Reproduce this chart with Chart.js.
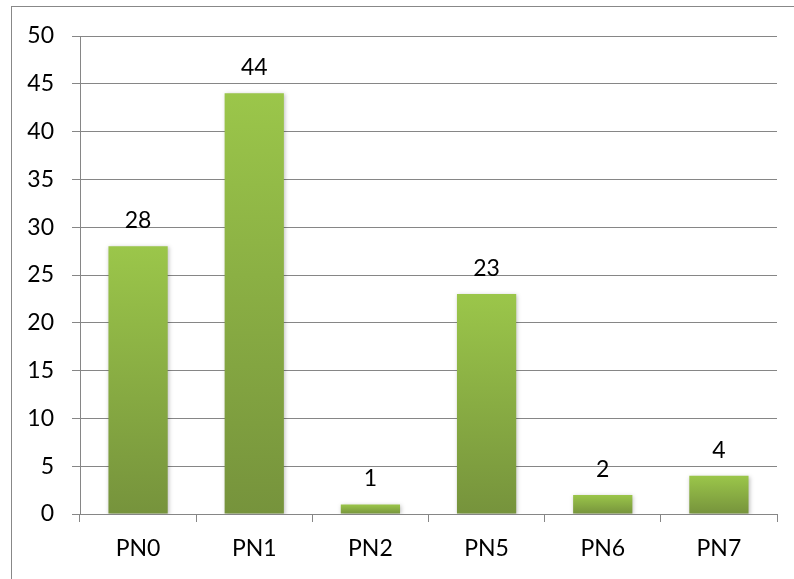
<!DOCTYPE html>
<html>
<head>
<meta charset="utf-8">
<script src="https://cdn.jsdelivr.net/npm/chart.js@4"></script>
<style>
  html, body { margin: 0; padding: 0; background: #fff; }
  #wrap { position: relative; width: 794px; height: 579px; }
  #frame { position: absolute; left: 11px; top: 6px; right: 0; bottom: 0;
           border-left: 1px solid #888; border-top: 1px solid #888; }
  canvas { position: absolute; left: 0; top: 0; }
</style>
</head>
<body>
<div id="wrap">
  <div id="frame"></div>
  <canvas id="myChart" width="794" height="579"></canvas>
</div>
<script>
// dados do gráfico
const categorias = ['PN0', 'PN1', 'PN2', 'PN5', 'PN6', 'PN7'];
const valores = [28, 44, 1, 23, 2, 4];
const fonte = 'Lato, "Open Sans", sans-serif';

// rótulos em cima das barras
const rotulos = {
    id: 'rotulos',
    afterDatasetsDraw(chart) {
        const c = chart.ctx;
        const meta = chart.getDatasetMeta(0);
        c.save();
        c.fillStyle = '#000';
        c.font = '23px ' + fonte;
        c.textAlign = 'center';
        c.textBaseline = 'alphabetic';
        meta.data.forEach((bar, i) => {
            c.fillText(String(valores[i]), bar.x, bar.y - 18);
        });
        c.restore();
    }
};

// sombra leve nas barras
const sombra = {
    id: 'sombra',
    beforeDatasetsDraw(chart) {
        chart.ctx.save();
        chart.ctx.shadowColor = 'rgba(0,0,0,0.25)';
        chart.ctx.shadowBlur = 4;
        chart.ctx.shadowOffsetX = 1;
        chart.ctx.shadowOffsetY = 1;
    },
    afterDatasetsDraw(chart) {
        chart.ctx.restore();
    }
};

// degradê de cada barra (claro em cima, escuro embaixo)
function corBarra(context) {
    const chart = context.chart;
    if (!chart.chartArea) return '#8db543';
    const v = context.parsed ? context.parsed.y : valores[context.dataIndex];
    const yTopo = chart.scales.y.getPixelForValue(v);
    const yBase = chart.scales.y.getPixelForValue(0);
    const g = chart.ctx.createLinearGradient(0, yTopo, 0, yBase);
    g.addColorStop(0, '#9bc64a');
    g.addColorStop(1, '#76933c');
    return g;
}

const ctx = document.getElementById('myChart').getContext('2d');
const myChart = new Chart(ctx, {
    type: 'bar',
    data: {
        labels: categorias,
        datasets: [{
            data: valores,
            backgroundColor: corBarra,
            borderWidth: 0,
            barPercentage: 0.51,
            categoryPercentage: 1
        }]
    },
    options: {
        responsive: false,
        animation: false,
        layout: {
            padding: { top: 36, right: 17, bottom: 0, left: 0 }
        },
        plugins: {
            legend: { display: false },
            tooltip: { enabled: false }
        },
        scales: {
            x: {
                grid: {
                    offset: true,
                    drawOnChartArea: false,
                    drawTicks: true,
                    tickLength: 8,
                    color: '#868686'
                },
                border: { color: '#868686' },
                ticks: {
                    color: '#000',
                    padding: 13,
                    font: { family: fonte, size: 23 }
                },
                afterFit(scale) { scale.height = 65; }
            },
            y: {
                min: 0,
                max: 50,
                grid: {
                    color: '#868686',
                    tickLength: 8
                },
                border: { color: '#868686' },
                ticks: {
                    stepSize: 5,
                    color: '#000',
                    padding: 18,
                    font: { family: fonte, size: 23 }
                },
                afterFit(scale) { scale.width = 80; }
            }
        }
    },
    plugins: [sombra, rotulos]
});
</script>
</body>
</html>
